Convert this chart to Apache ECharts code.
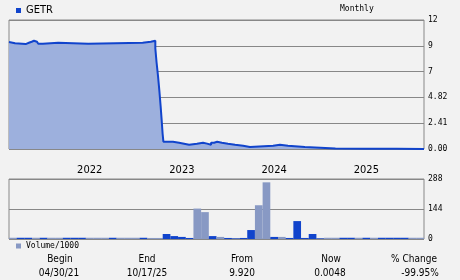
<!DOCTYPE html>
<html><head><meta charset="utf-8">
<script src="https://cdn.jsdelivr.net/npm/echarts@6/dist/echarts.min.js"></script>
<style>html,body{margin:0;padding:0;background:#f2f2f2;}#c{width:460px;height:280px;}</style>
</head><body><div id="c"></div>
<script>
var symbol = 'GETR';
var periodLabel = 'Monthly';
var priceDates = ['2021-03-01','2021-03-08','2021-03-25','2021-05-06','2021-05-19','2021-05-30','2021-06-08','2021-06-20','2021-06-25','2021-07-13','2021-09-12','2022-01-09','2022-08-13','2022-09-14','2022-10-02','2022-10-07','2022-10-13','2022-10-18','2022-10-23','2022-10-27','2022-10-31','2022-11-03','2022-12-11','2023-01-04','2023-01-24','2023-02-13','2023-03-16','2023-04-09','2023-04-25','2023-05-11','2023-05-23','2023-06-04','2023-06-23','2023-07-17','2023-08-14','2023-09-15','2023-10-12','2024-01-12','2024-02-08','2024-03-11','2024-05-17','2024-09-15','2025-01-15','2025-05-15','2025-09-01'];
var priceValues = [9.99,9.87,9.80,9.92,10.02,10.11,10.02,9.92,9.83,9.92,9.83,9.92,10.02,10.11,9.40,8.08,6.74,5.46,4.02,2.74,1.40,0.68,0.59,0.50,0.40,0.50,0.59,0.50,0.40,0.59,0.68,0.59,0.50,0.40,0.31,0.18,0.31,0.40,0.31,0.18,0.04,0.03,0.02,0.01,0.0048];
var priceTickValues = [0, 2.41, 4.82, 7.23, 9.64, 12.05];
var priceTickLabels = ['0.00','2.41','4.82','7','9','12'];
var months = ['2021-03','2021-04','2021-05','2021-06','2021-07','2021-08','2021-09','2021-10','2021-11','2021-12',
  '2022-01','2022-02','2022-03','2022-04','2022-05','2022-06','2022-07','2022-08','2022-09','2022-10','2022-11','2022-12',
  '2023-01','2023-02','2023-03','2023-04','2023-05','2023-06','2023-07','2023-08','2023-09','2023-10','2023-11','2023-12',
  '2024-01','2024-02','2024-03','2024-04','2024-05','2024-06','2024-07','2024-08','2024-09','2024-10','2024-11','2024-12',
  '2025-01','2025-02','2025-03','2025-04','2025-05','2025-06','2025-07','2025-08'];
var volumeValues = [6,6,6,6,6,6,6,6,6,6,6,6,6,6,6,6,6,6,5,5,24,14,10,5,146,129,14,10,5,3,5,43,162,272,10,10,5,86,5,24,3,6,6,6,6,6,6,6,6,6,6,6,6,6];
var volumeUp = [0,1,1,0,1,0,0,1,1,1,0,0,0,1,0,0,0,1,0,0,1,1,1,1,0,0,1,0,1,1,1,1,0,0,1,0,1,1,1,1,1,0,0,1,1,0,1,0,1,1,1,1,0,0];
var volumeTickLabels = {0:'0',144:'144',288:'288'};
var tableHeaders = ['Begin','End','From','Now','% Change'];
var tableValues = ['04/30/21','10/17/25','9.920','0.0048','-99.95%'];

var BLUE = '#1144cc', GREY = '#8899c4', FILL = '#9db0dd', LINE = '#888888';
var MONO = "'DejaVu Sans Mono', monospace";
var SANS = "'DejaVu Sans Condensed','Liberation Sans Narrow','DejaVu Sans', sans-serif";

var chart = echarts.init(document.getElementById('c'), null, {renderer: 'canvas'});
var headerX = [60, 147, 242, 331, 414];
var valueX = [59, 147, 242, 330, 420];
var graphics = [{type:'text', left: 340, top: 5, style:{text: periodLabel, font: '8px ' + MONO, fill:'#000'}}];
tableHeaders.forEach(function(h, i){
  graphics.push({type:'text', x: headerX[i], y: 259, style:{text: h, font: '10px ' + SANS, fill:'#000', align:'center', verticalAlign:'middle'}});
  graphics.push({type:'text', x: valueX[i], y: 273, style:{text: tableValues[i], font: '10px ' + SANS, fill:'#000', align:'center', verticalAlign:'middle'}});
});

chart.setOption({
  backgroundColor: '#f2f2f2',
  animation: false,
  grid: [
    {left: 9, right: 36, top: 20, height: 129, show: true, borderColor: LINE, borderWidth: 1, backgroundColor: 'transparent'},
    {left: 9, right: 36, top: 179, height: 60, show: true, borderColor: LINE, borderWidth: 1, backgroundColor: 'transparent'}
  ],
  legend: [
    {left: 11, top: 0, selectedMode: false, itemWidth: 5, itemHeight: 5, icon: 'rect',
     data: [{name: symbol, itemStyle: {color: BLUE}}], textStyle: {fontSize: 11, fontFamily: SANS, color: '#000'}},
    {left: 11, top: 237, selectedMode: false, itemWidth: 5, itemHeight: 5, icon: 'rect',
     data: [{name: 'Volume/1000', itemStyle: {color: GREY}}], textStyle: {fontSize: 8, fontFamily: MONO, color: '#000'}}
  ],
  xAxis: [
    {type: 'time', gridIndex: 0, min: '2021-03-01', max: '2025-09-01', axisLabel: {show: false}, axisLine: {show: false}, axisTick: {show: false}, splitLine: {show: false}},
    {type: 'category', gridIndex: 1, data: months, position: 'top', boundaryGap: true,
     axisLine: {show: false}, axisTick: {show: false}, splitLine: {show: false},
     axisLabel: {margin: 3, fontSize: 11, fontFamily: SANS, color: '#000',
       interval: function(i, v){ return v.slice(5) === '01'; },
       formatter: function(v){ return v.slice(0, 4); }}}
  ],
  yAxis: [
    {type: 'value', gridIndex: 0, position: 'right', min: 0, max: 12.05, interval: 2.41,
     axisLine: {show: false}, axisTick: {show: false},
     splitLine: {show: true, lineStyle: {color: LINE, width: 1}},
     axisLabel: {margin: 4, fontSize: 8, fontFamily: MONO, color: '#000',
       formatter: function(v){ var best = 0; for (var i = 1; i < priceTickValues.length; i++) if (Math.abs(priceTickValues[i]-v) < Math.abs(priceTickValues[best]-v)) best = i; return priceTickLabels[best]; }}},
    {type: 'value', gridIndex: 1, position: 'right', min: 0, max: 288, interval: 144,
     axisLine: {show: false}, axisTick: {show: false},
     splitLine: {show: true, lineStyle: {color: LINE, width: 1}},
     axisLabel: {margin: 4, fontSize: 8, fontFamily: MONO, color: '#000',
       formatter: function(v){ return volumeTickLabels[Math.round(v)]; }}}
  ],
  series: [
    {name: symbol, type: 'line', xAxisIndex: 0, yAxisIndex: 0, step: 'end', showSymbol: false,
     data: priceDates.map(function(d, i){ return [d, priceValues[i]]; }),
     itemStyle: {color: BLUE}, lineStyle: {color: BLUE, width: 2}, areaStyle: {color: FILL, opacity: 1}},
    {name: 'Volume/1000', type: 'bar', xAxisIndex: 1, yAxisIndex: 1, barWidth: '100%',
     data: volumeValues.map(function(v, i){ return {value: v, itemStyle: {color: volumeUp[i] ? BLUE : GREY}}; })}
  ],
  graphic: graphics
});
</script></body></html>
